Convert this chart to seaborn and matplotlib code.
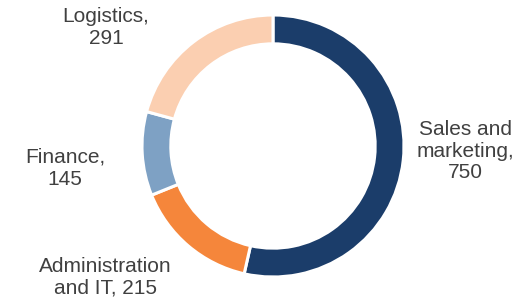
import matplotlib
matplotlib.use("Agg")
import matplotlib.pyplot as plt
import seaborn as sns

# data
departments = ["Sales and\nmarketing,", "Administration\nand IT,", "Finance,", "Logistics,"]
headcount = [750, 215, 145, 291]
colors = ["#1b3d6a", "#f5863b", "#7ea1c4", "#fbcfb1"]

sns.set_theme(style="white")
plt.rcParams['font.family'] = ['Liberation Sans', 'DejaVu Sans']

fig = plt.figure(figsize=(5.32, 3.01), dpi=100)
ax = fig.add_axes([0, 0, 1, 1])

wedges, _ = ax.pie(headcount, colors=colors, startangle=90, counterclock=False,
                   radius=1.0, wedgeprops=dict(width=0.22, edgecolor='white', linewidth=2.2))

# label spots (data units, ring radius = 1)
label_pos = [(1.466, -0.04), (-1.282, -1.0), (-1.588, -0.17), (-1.275, 0.905)]
for name, val, (x, y) in zip(departments, headcount, label_pos):
    if name.startswith("Administration"):
        txt = "Administration\nand IT, " + str(val)
    else:
        txt = name + "\n" + str(val)
    ax.text(x, y, txt, ha='center', va='center', fontsize=15, color='#404040',
            linespacing=1.18)

r = 131.0
ax.set_xlim(-273 / r, (532 - 273) / r)
ax.set_ylim(-(301 - 146) / r, 146 / r)
ax.set_aspect('equal')
ax.axis('off')

plt.savefig('out.png', dpi=100)
